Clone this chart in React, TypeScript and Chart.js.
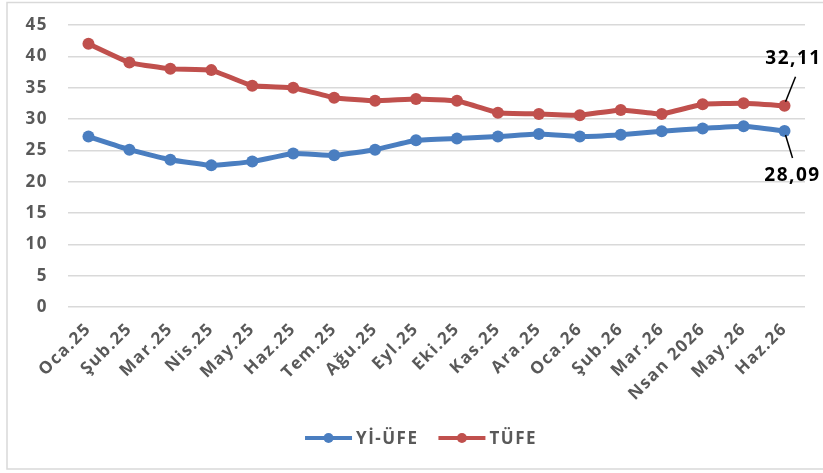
import React, { useEffect, useRef } from "react";
import { Chart, registerables } from "chart.js";

Chart.register(...registerables);

const categories = [
  "Oca.25", "Şub.25", "Mar.25", "Nis.25", "May.25", "Haz.25", "Tem.25", "Ağu.25", "Eyl.25",
  "Eki.25", "Kas.25", "Ara.25", "Oca.26", "Şub.26", "Mar.26", "Nsan 2026", "May.26", "Haz.26",
];
const yiUfe = [27.2, 25.1, 23.5, 22.6, 23.2, 24.5, 24.2, 25.1, 26.6, 26.9, 27.2, 27.6, 27.2, 27.5, 28.05, 28.5, 28.85, 28.09];
const tufe = [42.0, 39.0, 38.0, 37.8, 35.3, 35.0, 33.4, 32.9, 33.2, 32.9, 31.0, 30.8, 30.6, 31.45, 30.8, 32.35, 32.5, 32.11];
const seriesNames = ["Yİ-ÜFE", "TÜFE"];
const lastLabels = ["28,09", "32,11"];
const yTicks = [0, 5, 10, 15, 20, 25, 30, 35, 40, 45];

const BLUE = "#4a7ec0";
const RED = "#c0504d";
const GRAY = "#595959";
const FONT = "'Open Sans', 'Noto Sans', sans-serif";
const SPACING = "1.5px";

const setSpacing = (chart: any) => {
  try {
    chart.ctx.letterSpacing = SPACING;
  } catch (e) {}
};

const framePlugin = {
  id: "frame",
  afterInit: setSpacing,
  beforeUpdate: setSpacing,
  beforeLayout: setSpacing,
  beforeDraw(chart: any) {
    const ctx = chart.ctx;
    setSpacing(chart);
    ctx.save();
    ctx.fillStyle = "#ffffff";
    ctx.fillRect(0, 0, chart.width, chart.height);
    ctx.strokeStyle = "#d9d9d9";
    ctx.lineWidth = 1.5;
    ctx.strokeRect(7, 2.5, 830, 466.5);
    ctx.restore();
  },
};

const endLabelsPlugin = {
  id: "endLabels",
  afterDatasetsDraw(chart: any) {
    const ctx = chart.ctx;
    const xs = chart.scales.x;
    const ys = chart.scales.y;
    const n = categories.length - 1;
    ctx.save();
    ctx.font = `bold 19px ${FONT}`;
    ctx.fillStyle = "#000000";
    ctx.strokeStyle = "#000000";
    ctx.lineWidth = 1.5;
    ctx.textAlign = "center";
    ctx.textBaseline = "middle";
    // TÜFE (above)
    const px1 = xs.getPixelForValue(n);
    const py1 = ys.getPixelForValue(tufe[n]);
    ctx.beginPath();
    ctx.moveTo(px1 + 1, py1 - 4);
    ctx.lineTo(px1 + 11, py1 - 29);
    ctx.stroke();
    ctx.fillText(lastLabels[1], px1 + 9, py1 - 47);
    // Yİ-ÜFE (below)
    const px0 = xs.getPixelForValue(n);
    const py0 = ys.getPixelForValue(yiUfe[n]);
    ctx.beginPath();
    ctx.moveTo(px0 + 1, py0 + 4);
    ctx.lineTo(px0 + 8, py0 + 27);
    ctx.stroke();
    ctx.fillText(lastLabels[0], px0 + 8, py0 + 45);
    ctx.restore();
  },
};

const legendPlugin = {
  id: "customLegend",
  afterDraw(chart: any) {
    const ctx = chart.ctx;
    ctx.save();
    ctx.font = `bold 17px ${FONT}`;
    ctx.textBaseline = "middle";
    const y = 438;
    const lineW = 47;
    const gap = 4;
    const itemGap = 20;
    const items = chart.data.datasets.map((d: any) => ({
      label: d.label,
      color: d.borderColor,
      w: lineW + gap + ctx.measureText(d.label).width,
    }));
    const total = items.reduce((s: number, it: any) => s + it.w, 0) + itemGap * (items.length - 1);
    let x = 421 - total / 2;
    items.forEach((it: any) => {
      ctx.strokeStyle = it.color;
      ctx.lineWidth = 4;
      ctx.beginPath();
      ctx.moveTo(x, y);
      ctx.lineTo(x + lineW, y);
      ctx.stroke();
      ctx.fillStyle = it.color;
      ctx.beginPath();
      ctx.arc(x + lineW / 2, y, 5, 0, Math.PI * 2);
      ctx.fill();
      ctx.fillStyle = GRAY;
      ctx.textAlign = "left";
      ctx.fillText(it.label, x + lineW + gap, y + 1);
      x += it.w + itemGap;
    });
    ctx.restore();
  },
};

export default function App() {
  const ref = useRef<HTMLCanvasElement | null>(null);
  useEffect(() => {
    document.body.style.margin = "0";
    if (!ref.current) return;
    const chart = new Chart(ref.current, {
      type: "line",
      data: {
        labels: categories,
        datasets: [
          {
            label: seriesNames[0],
            data: yiUfe,
            borderColor: BLUE,
            backgroundColor: BLUE,
            borderWidth: 5,
            pointRadius: 6,
            pointBackgroundColor: BLUE,
            pointBorderWidth: 0,
            tension: 0.1,
          },
          {
            label: seriesNames[1],
            data: tufe,
            borderColor: RED,
            backgroundColor: RED,
            borderWidth: 5,
            pointRadius: 6,
            pointBackgroundColor: RED,
            pointBorderWidth: 0,
            tension: 0.1,
          },
        ],
      },
      options: {
        animation: false,
        responsive: false,
        devicePixelRatio: 1,
        layout: { padding: { top: 25, right: 18, bottom: 0, left: 0 } },
        plugins: {
          legend: { display: false },
          tooltip: { enabled: false },
        },
        scales: {
          x: {
            type: "category",
            offset: true,
            grid: { display: false, drawTicks: false },
            border: { display: false },
            ticks: {
              autoSkip: false,
              maxRotation: 45,
              minRotation: 45,
              padding: 12,
              color: GRAY,
              font: { family: FONT, weight: "bold", size: 17 },
            },
            afterFit: (s: any) => {
              s.height = 166;
            },
          },
          y: {
            min: 0,
            max: 45,
            afterBuildTicks: (s: any) => {
              s.ticks = yTicks.map((v) => ({ value: v }));
            },
            grid: { color: "#d9d9d9", lineWidth: 1.5, drawTicks: false },
            border: { display: false },
            ticks: {
              padding: 20,
              color: GRAY,
              font: { family: FONT, weight: "bold", size: 17 },
            },
            afterFit: (s: any) => {
              s.width = 68;
              s.paddingTop = 0;
              s.paddingBottom = 0;
            },
          },
        },
      },
      plugins: [framePlugin, endLabelsPlugin, legendPlugin],
    });
    return () => chart.destroy();
  }, []);
  return <canvas ref={ref} width={823} height={473} style={{ display: "block" }} />;
}
